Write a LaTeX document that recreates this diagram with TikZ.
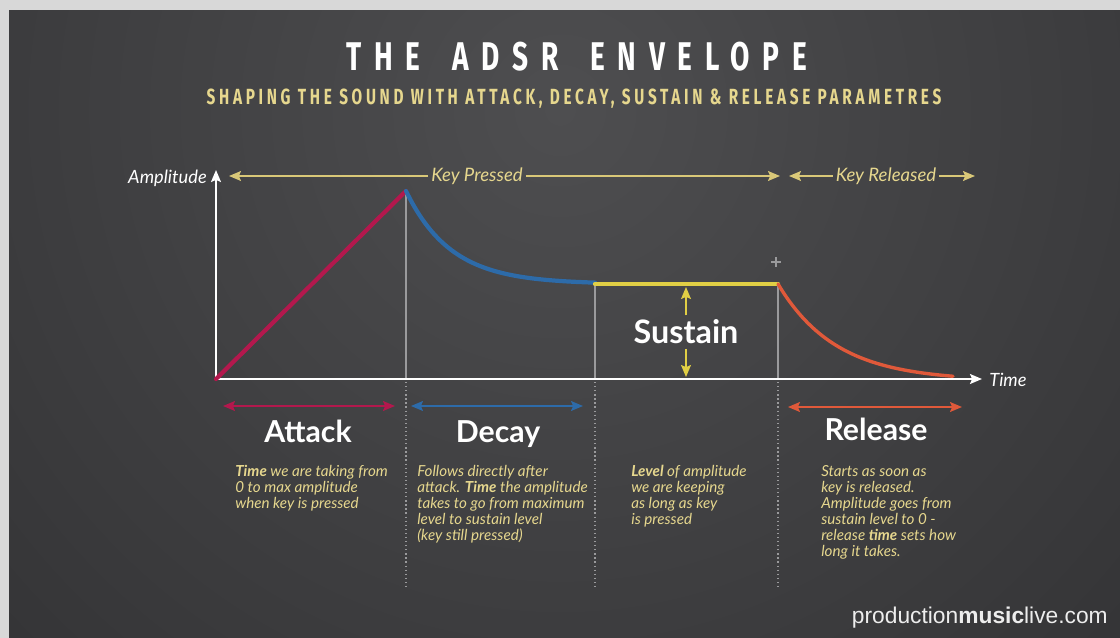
\documentclass[tikz,border=0pt]{standalone}
\usepackage{fontspec}
\setmainfont{Lato}
\newfontfamily\headfont{Fira Sans}
\newfontfamily\webfont{Liberation Sans}
\usetikzlibrary{arrows.meta}
\usetikzlibrary{positioning}
\usetikzlibrary{calc}

\definecolor{panel}{HTML}{353537}
\definecolor{glow}{HTML}{4E4E50}
\definecolor{frame}{HTML}{D8D8D8}
\definecolor{khaki}{HTML}{E6D78E}
\definecolor{keyline}{HTML}{D9C878}
\definecolor{attackc}{HTML}{B3184D}
\definecolor{decayc}{HTML}{2D6BA9}
\definecolor{sustainc}{HTML}{E1CF45}
\definecolor{releasec}{HTML}{E0593A}
\definecolor{guide}{HTML}{9A9A9C}

\begin{document}
\begin{tikzpicture}
  [
    x=0.025cm, y=-0.025cm,
    tip/.style    = {-{Stealth[length=8.5pt, width=7pt, inset=1.5pt]}},
    both/.style   = {{Stealth[length=8.5pt, width=7pt, inset=1.5pt]}-{Stealth[length=8.5pt, width=7pt, inset=1.5pt]}},
    axis/.style   = {draw=white, line width=1.5pt, tip},
    keyarrow/.style = {draw=keyline, line width=1.3pt, tip},
    keytext/.style  = {text=khaki, font=\fontsize{13.2}{15}\selectfont\itshape, inner sep=2pt},
    curve/.style  = {line width=3pt, line cap=round, line join=round},
    vline/.style  = {draw=guide, line width=0.8pt},
    dots/.style   = {draw=guide, line width=0.9pt, dotted},
    stage/.style  = {text=white, font=\fontsize{21.5}{24}\selectfont\bfseries, anchor=base},
    descr/.style  = {text=khaki, font=\fontsize{10.8}{11.4}\selectfont\itshape, align=left, anchor=north west, inner sep=0pt},
  ]

  % background panel
  \fill[frame] (0,0) rectangle (1120,638);
  \fill[panel] (9,10) rectangle (1120,638);
  \begin{scope}
    \clip (9,10) rectangle (1120,638);
    \shade[inner color=glow, outer color=panel] (560,110) circle (760);
  \end{scope}
  \useasboundingbox (0,0) rectangle (1120,638);

  % titles
  \def\gap{\hspace{0.45em}}
  \node (title) at (577,57) [text=white, xscale=0.7, font=\headfont\fontsize{28.5}{32}\selectfont\bfseries\addfontfeature{LetterSpace=45}] {THE\gap{} ADSR\gap{} ENVELOPE};
  \node (subtitle) at (574,99) [text=khaki, xscale=0.7, font=\headfont\fontsize{15.6}{17}\selectfont\bfseries\addfontfeature{LetterSpace=24}] {SHAPING THE SOUND WITH ATTACK, DECAY, SUSTAIN \& RELEASE PARAMETRES};

  % envelope points
  \coordinate (origin) at (216,379);
  \coordinate (ytop)   at (216,170);
  \coordinate (xend)   at (982,379);
  \coordinate (peak)   at (406,191);
  \coordinate (sus1)   at (595,284);
  \coordinate (sus2)   at (778,284);

  % guides
  \draw[vline] (peak) -- (peak |- origin);
  \draw[vline] (sus1) -- (sus1 |- origin);
  \draw[vline] (sus2) -- (sus2 |- origin);
  \foreach \p in {peak, sus1, sus2}
    \draw[dots] ($(\p |- origin)+(0,3)$) -- ++(0,205);

  % axes
  \draw[axis] (origin) -- (ytop);
  \draw[axis] (origin) -- (xend);
  \node (amp) at (207,178) [anchor=east, text=white, font=\fontsize{13}{15}\selectfont\itshape, inner sep=0pt] {Amplitude};
  \node (time) at (989,380) [anchor=west, text=white, font=\fontsize{13}{15}\selectfont\itshape, inner sep=0pt] {Time};

  % the envelope
  \draw[curve, attackc] (origin) -- (peak);
  \draw[curve, decayc] plot[domain=0:189, samples=60] ({406+\x},{284-93*exp(-\x/45)});
  \draw[curve, sustainc] (sus1) -- (sus2);
  \draw[curve, releasec, line width=2.4pt] plot[domain=0:175, samples=60] ({778+\x},{284+97*(1-exp(-\x/58))});

  % sustain level
  \node (sustain) at (686,332) [text=white, font=\fontsize{23}{26}\selectfont\bfseries, inner sep=3pt] {Sustain};
  \draw[draw=sustainc, line width=1.3pt, tip] (sustain.north) -- ($(sustain.north |- sus1)+(0,3)$);
  \draw[draw=sustainc, line width=1.3pt, tip] (sustain.south) -- ($(sustain.south |- origin)+(0,-2)$);

  % key pressed / released
  \coordinate (kpL) at (229,176);
  \coordinate (kpR) at (780,176);
  \coordinate (krL) at (789,176);
  \coordinate (krR) at (975,176);
  \node (pressed) at (477,176) [keytext] {Key Pressed};
  \node (released) at (886,176) [keytext] {Key Released};
  \draw[keyarrow] (pressed.west) -- (kpL);
  \draw[keyarrow] (pressed.east) -- (kpR);
  \draw[keyarrow] (released.west) -- (krL);
  \draw[keyarrow] (released.east) -- (krR);

  % cursor mark
  \draw[guide, line width=0.8pt] (771,262) -- (781,262) (776,257) -- (776,267);

  % stages
  \draw[both, draw=attackc, line width=1.3pt] (223,406) -- (395,406);
  \draw[both, draw=decayc, line width=1.3pt] (411,406) -- (583,406);
  \draw[both, draw=releasec, line width=1.3pt] (788,407) -- (962,407);

  \node (attack) at (308,442) [stage] {Attack};
  \node (decay) at (498,442) [stage] {Decay};
  \node (release) at (876,440) [stage] {Release};

  \node (attackd) at (235,465) [descr] {\textbf{Time} we are taking from\\0 to max amplitude\\when key is pressed};
  \node (decayd) at (417,465) [descr] {Follows directly after\\attack. \textbf{Time} the amplitude\\takes to go from maximum\\level to sustain level\\(key still pressed)};
  \node (sustaind) at (631,465) [descr] {\textbf{Level} of amplitude\\we are keeping\\as long as key\\is pressed};
  \node (released) at (821,465) [descr] {Starts as soon as\\key is released.\\Amplitude goes from\\sustain level to 0 -\\release \textbf{time} sets how\\long it takes.};

  % watermark
  \node (web) at (1108,623) [anchor=base east, inner sep=0pt, text=white!93!black, font=\webfont\fontsize{16.2}{18}\selectfont] {production\textbf{music}live.com};

\end{tikzpicture}
\end{document}
